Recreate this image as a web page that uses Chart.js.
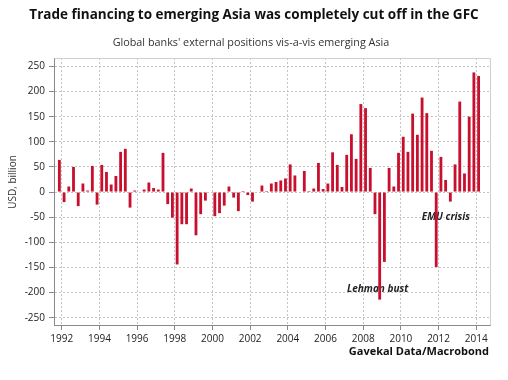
<!DOCTYPE html>
<html>
<head>
<meta charset="utf-8">
<script src="https://cdn.jsdelivr.net/npm/chart.js@4.4.1/dist/chart.umd.min.js"></script>
<style>
  html, body { margin: 0; padding: 0; background: #ffffff; }
  #wrap { width: 508px; height: 380px; position: relative; }
</style>
</head>
<body>
<div id="wrap"><canvas id="c" width="508" height="380"></canvas></div>
<script>
// ---- Data ----
const startYear = 1991;
const startQuarter = 4;
// Global banks' external positions vis-a-vis emerging Asia, USD bn, quarterly from 1991Q4
const values = [
  64,
  -20, 11, 50, -28,     // 1992
  17, 3, 52, -25,       // 1993
  54, 40, 15, 32,       // 1994
  80, 86, -31, 3,       // 1995
  1, 5, 19, 8,          // 1996
  5, 78, -24, -51,      // 1997
  -144, -64, -64, 7,    // 1998
  -86, -44, -17, -1,    // 1999
  -48, -42, -27, 11,    // 2000
  -11, -38, 2, -6,      // 2001
  -19, 0, 13, 2,        // 2002
  17, 20, 23, 27,       // 2003
  55, 33, -1, 42,       // 2004
  2, 7, 58, 6,          // 2005
  17, 79, 54, 10,       // 2006
  74, 115, 66, 175,     // 2007
  167, 48, -44, -214,   // 2008
  -139, 48, 11, 78,     // 2009
  110, 80, 156, 114,    // 2010
  188, 157, 82, -149,   // 2011
  70, 24, -19, 55,      // 2012
  180, 37, 150, 238,    // 2013
  231                   // 2014
];
const xTickYears = [1992, 1994, 1996, 1998, 2000, 2002, 2004, 2006, 2008, 2010, 2012, 2014];
const yTickValues = [-250, -200, -150, -100, -50, 0, 50, 100, 150, 200, 250];
const annotations = [
  { text: 'Lehman bust', year: 2008.77, value: -193 },
  { text: 'EMU crisis', year: 2012.39, value: -49 }
];
const titleText = 'Trade financing to emerging Asia was completely cut off in the GFC';
const subtitleText = "Global banks' external positions vis-a-vis emerging Asia";
const sourceText = 'Gavekal Data/Macrobond';
const yAxisTitle = 'USD, billion';

// periods (year, quarter) from start
const periods = values.map((v, i) => {
  const k = (startQuarter - 1) + i;
  return { year: startYear + Math.floor(k / 4), q: (k % 4) + 1 };
});
const points = values.map((v, i) => ({ x: periods[i].year + (periods[i].q - 0.5) / 4, y: v }));

const FONT = "'Open Sans', 'DejaVu Sans', sans-serif";

const textPlugin = {
  id: 'texts',
  beforeDatasetsDraw(chart) {
    const ctx = chart.ctx;
    const xs = chart.scales.x, ys = chart.scales.y;
    ctx.save();
    ctx.fillStyle = '#222';
    ctx.font = "italic bold 10px " + FONT;
    ctx.textAlign = 'center';
    ctx.textBaseline = 'middle';
    annotations.forEach(a => {
      ctx.fillText(a.text, xs.getPixelForValue(a.year), ys.getPixelForValue(a.value));
    });
    ctx.restore();
  },
  afterDraw(chart) {
    const ctx = chart.ctx;
    const ca = chart.chartArea;
    ctx.save();
    // frame top/right
    ctx.strokeStyle = '#cfcfcf';
    ctx.lineWidth = 1;
    ctx.beginPath();
    ctx.moveTo(Math.round(ca.left) + 0.5, Math.round(ca.top) + 0.5);
    ctx.lineTo(Math.round(ca.right) + 0.5, Math.round(ca.top) + 0.5);
    ctx.lineTo(Math.round(ca.right) + 0.5, Math.round(ca.bottom) + 0.5);
    ctx.stroke();
    // titles
    ctx.fillStyle = '#111';
    ctx.textAlign = 'center';
    ctx.textBaseline = 'middle';
    ctx.font = "bold 13.5px " + FONT;
    ctx.fillText(titleText, 254, 15);
    ctx.fillStyle = '#333';
    ctx.font = "10.8px " + FONT;
    ctx.fillText(subtitleText, 251, 43);
    // source
    ctx.fillStyle = '#111';
    ctx.textAlign = 'right';
    ctx.font = "bold 11px " + FONT;
    ctx.fillText(sourceText, 489, 352);
    // y axis title
    ctx.save();
    ctx.translate(13, 182);
    ctx.rotate(-Math.PI / 2);
    ctx.textAlign = 'center';
    ctx.fillStyle = '#333';
    ctx.font = "10px " + FONT;
    ctx.fillText(yAxisTitle, 0, 0);
    ctx.restore();
    ctx.restore();
  }
};

new Chart(document.getElementById('c'), {
  type: 'bar',
  data: {
    datasets: [{
      data: points,
      backgroundColor: '#c8102e',
      borderWidth: 0,
      barPercentage: 0.6,
      categoryPercentage: 1.0
    }]
  },
  options: {
    responsive: false,
    animation: false,
    devicePixelRatio: 1,
    layout: { padding: { top: 58, right: 18, left: 0, bottom: 0 } },
    plugins: { legend: { display: false }, tooltip: { enabled: false } },
    scales: {
      x: {
        type: 'linear',
        offset: false,
        min: 1991.59,
        max: 2014.73,
        afterBuildTicks(scale) { scale.ticks = xTickYears.map(v => ({ value: v })); },
        afterFit(scale) { scale.height = 55; },
        grid: {
          offset: false,
          color: '#c4c4c4',
          tickColor: '#888888',
          tickBorderDash: [],
          tickLength: 5,
          drawTicks: true
        },
        border: { display: true, color: '#8a8a8a', width: 1, dash: [2, 2] },
        ticks: {
          color: '#222',
          font: { family: FONT, size: 10 },
          padding: 3,
          maxRotation: 0,
          autoSkip: false,
          callback: (v) => String(v)
        }
      },
      y: {
        type: 'linear',
        min: -264.5,
        max: 266.7,
        afterBuildTicks(scale) { scale.ticks = yTickValues.map(v => ({ value: v })); },
        afterFit(scale) { scale.width = 54; },
        grid: {
          color: '#c4c4c4',
          tickColor: '#888888',
          tickBorderDash: [],
          tickLength: 5,
          drawTicks: true
        },
        border: { display: true, color: '#8a8a8a', width: 1, dash: [2, 2] },
        ticks: {
          color: '#222',
          font: { family: FONT, size: 10 },
          padding: 4,
          autoSkip: false,
          callback: (v) => String(v)
        }
      }
    }
  },
  plugins: [textPlugin]
});
</script>
</body>
</html>
